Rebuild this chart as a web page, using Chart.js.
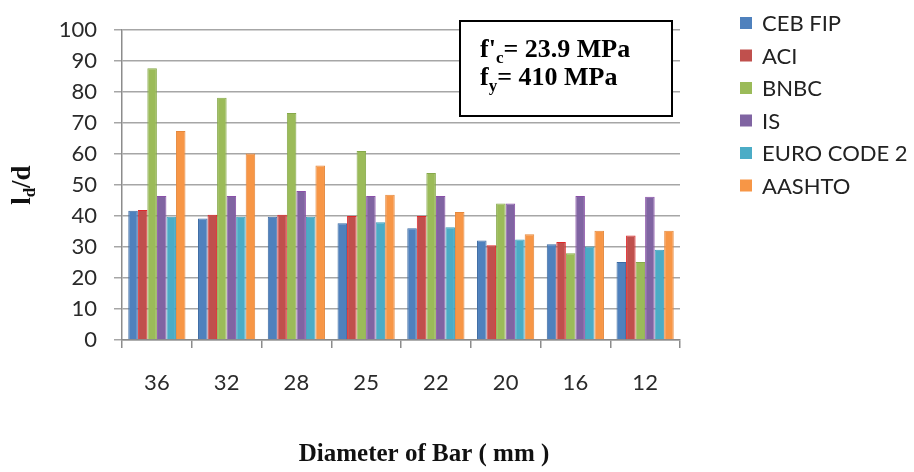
<!DOCTYPE html>
<html>
<head>
<meta charset="utf-8">
<script src="https://cdn.jsdelivr.net/npm/chart.js@4.4.1/dist/chart.umd.min.js"></script>
<style>
  html, body { margin: 0; padding: 0; background: #fff; }
  #wrap { width: 914px; height: 472px; }
</style>
</head>
<body>
<div id="wrap"><canvas id="chart" width="914" height="472"></canvas></div>
<script>
// Data
const categories = ['36', '32', '28', '25', '22', '20', '16', '12'];
const cebFip    = [41.7, 39.2, 39.8, 37.7, 36.1, 32.1, 30.9, 25.2];
const aci       = [42.0, 40.4, 40.4, 40.0, 40.0, 30.6, 31.6, 33.7];
const bnbc      = [87.7, 78.2, 73.3, 61.0, 53.9, 44.1, 28.0, 25.2];
const isCode    = [46.5, 46.5, 48.1, 46.5, 46.5, 44.1, 46.5, 46.2];
const euroCode2 = [39.8, 39.8, 39.8, 38.0, 36.4, 32.4, 30.2, 29.1];
const aashto    = [67.5, 60.2, 56.3, 46.9, 41.3, 34.1, 35.3, 35.3];
const seriesNames = ['CEB FIP', 'ACI', 'BNBC', 'IS', 'EURO CODE 2', 'AASHTO'];
const yMin = 0, yMax = 100, yStep = 10;

const fills   = ['#4f81bd', '#c0504d', '#9bbb59', '#8064a2', '#4bacc6', '#f79646'];
const borders = ['#3c6aa3', '#e0282a', '#86a94a', '#8a4fa8', '#3d9cb8', '#e5883c'];

const sansFont = "Lato, 'Open Sans', sans-serif";
const serifFont = "'Liberation Serif', 'DejaVu Serif', serif";

// Legend drawn at the right, like the Excel original
const legendPlugin = {
  id: 'sideLegend',
  afterDraw(chart) {
    const ctx = chart.ctx;
    ctx.save();
    ctx.font = '22px ' + sansFont;
    ctx.textBaseline = 'middle';
    chart.data.datasets.forEach((ds, i) => {
      const y = 23 + i * 32.5;
      ctx.fillStyle = ds.backgroundColor;
      ctx.fillRect(740, y - 6, 12, 12);
      ctx.fillStyle = '#222';
      ctx.fillText(ds.label, 762, y + 1);
    });
    ctx.restore();
  }
};

// Axis titles and the property box
const textPlugin = {
  id: 'extraText',
  afterDraw(chart) {
    const ctx = chart.ctx;
    const area = chart.chartArea;
    ctx.save();

    // y title: l_d/d
    ctx.translate(22, (area.top + area.bottom) / 2);
    ctx.rotate(-Math.PI / 2);
    ctx.fillStyle = '#111';
    ctx.textBaseline = 'alphabetic';
    const big = 'bold 27px ' + serifFont, small = 'bold 17px ' + serifFont;
    ctx.font = big;
    const w1 = ctx.measureText('l').width;
    ctx.font = small;
    const w2 = ctx.measureText('d').width;
    ctx.font = big;
    const w3 = ctx.measureText('/d').width;
    let x = -(w1 + w2 + w3) / 2;
    ctx.fillText('l', x, 8);
    x += w1;
    ctx.font = small;
    ctx.fillText('d', x, 13);
    x += w2;
    ctx.font = big;
    ctx.fillText('/d', x, 8);
    ctx.setTransform(1, 0, 0, 1, 0, 0);

    // x title
    ctx.font = 'bold 25px ' + serifFont;
    ctx.textAlign = 'center';
    ctx.textBaseline = 'middle';
    ctx.fillText('Diameter of Bar ( mm )', 424, 455);

    // property box
    ctx.fillStyle = '#fff';
    ctx.fillRect(460, 21, 212, 95);
    ctx.strokeStyle = '#000';
    ctx.lineWidth = 2;
    ctx.strokeRect(460, 21, 212, 95);
    ctx.fillStyle = '#000';
    ctx.textAlign = 'left';
    ctx.textBaseline = 'alphabetic';
    const drawSub = (parts, x0, y0) => {
      let cx = x0;
      parts.forEach(p => {
        ctx.font = p.sub ? 'bold 17px ' + serifFont : 'bold 26px ' + serifFont;
        ctx.fillText(p.t, cx, y0 + (p.sub ? 6 : 0));
        cx += ctx.measureText(p.t).width;
      });
    };
    drawSub([{ t: "f'" }, { t: 'c', sub: true }, { t: '= 23.9 MPa' }], 480, 57);
    drawSub([{ t: 'f' }, { t: 'y', sub: true }, { t: '= 410 MPa' }], 480, 85);
    ctx.restore();
  }
};

const seriesValues = [cebFip, aci, bnbc, isCode, euroCode2, aashto];

new Chart(document.getElementById('chart'), {
  type: 'bar',
  data: {
    labels: categories,
    datasets: seriesValues.map((vals, i) => ({
      label: seriesNames[i],
      data: vals,
      backgroundColor: fills[i],
      borderColor: borders[i],
      borderWidth: 1,
      categoryPercentage: 0.82,
      barPercentage: 1.0
    }))
  },
  options: {
    responsive: false,
    animation: false,
    layout: { padding: { top: 21, right: 234, left: 0, bottom: 0 } },
    plugins: { legend: { display: false }, tooltip: { enabled: false } },
    scales: {
      x: {
        afterFit: s => { s.height = 132; },
        grid: { drawOnChartArea: false, drawTicks: true, tickLength: 8, offset: true, color: '#8c8c8c', lineWidth: 1.5 },
        border: { color: '#8c8c8c', width: 1.5 },
        ticks: { font: { family: sansFont, size: 22 }, color: '#2a2a2a', padding: 22, maxRotation: 0 }
      },
      y: {
        min: yMin, max: yMax,
        afterFit: s => { s.width = 122; },
        grid: { color: '#a6a6a6', lineWidth: 1.5, tickLength: 8 },
        border: { color: '#8c8c8c', width: 1.5 },
        ticks: { stepSize: yStep, font: { family: sansFont, size: 22 }, color: '#2a2a2a', padding: 17 }
      }
    }
  },
  plugins: [legendPlugin, textPlugin]
});
</script>
</body>
</html>
